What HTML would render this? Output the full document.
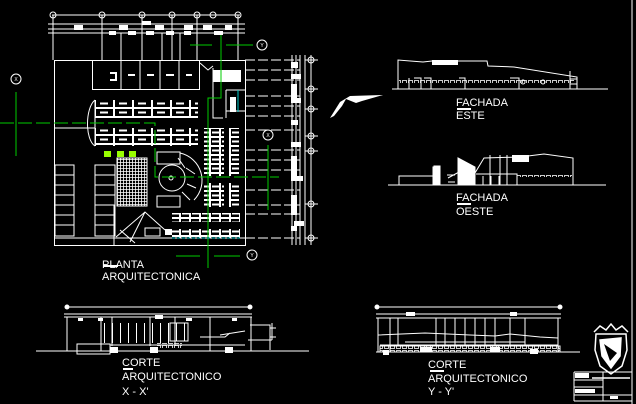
<!DOCTYPE html>
<html><head><meta charset="utf-8"><style>
html,body{margin:0;padding:0;background:#000;}
svg{display:block}
text{font-family:"Liberation Sans",sans-serif;fill:#fff;}
</style></head><body>
<svg width="636" height="404" viewBox="0 0 636 404" xmlns="http://www.w3.org/2000/svg">
<defs>
<pattern id="desk" x="95" y="0" width="19" height="9" patternUnits="userSpaceOnUse">
<rect x="0.5" y="0.5" width="18" height="8" fill="none" stroke="#fff" stroke-width="1"/>
<rect x="5" y="3.5" width="8" height="2" fill="#fff"/>
</pattern>
<pattern id="desk2" x="0" y="128" width="10" height="9" patternUnits="userSpaceOnUse">
<rect x="0.5" y="0.5" width="9" height="8" fill="none" stroke="#fff"/>
<rect x="2" y="3.5" width="7" height="2" fill="#fff"/>
</pattern>
<pattern id="grid" width="3" height="3" patternUnits="userSpaceOnUse">
<path d="M0 0.5H3M0.5 0V3" stroke="#fff" stroke-width="0.8"/>
</pattern>
<pattern id="win" width="6" height="5" patternUnits="userSpaceOnUse">
<rect x="0.5" y="0.5" width="4" height="3" fill="none" stroke="#fff" stroke-width="0.8"/>
</pattern>
<pattern id="sec" width="8" height="20" patternUnits="userSpaceOnUse">
<path d="M0.5 0V20" stroke="#fff"/>
</pattern>
</defs>
<rect width="636" height="404" fill="#000"/>
<g stroke="#fff" stroke-width="1" fill="none">
<path d="M48 24H245M48 29H245M48 33H245M52 15H240"/>
<g fill="#fff" stroke="none">
<rect x="74" y="25" width="9" height="5"/><rect x="119" y="25" width="9" height="5"/><rect x="155" y="25" width="9" height="5"/><rect x="184" y="25" width="9" height="5"/><rect x="203" y="25" width="9" height="5"/><rect x="225" y="25" width="7" height="5"/>
<rect x="109" y="31" width="7" height="4"/><rect x="128" y="31" width="8" height="4"/><rect x="146" y="31" width="8" height="4"/><rect x="166" y="31" width="8" height="4"/><rect x="184" y="31" width="7" height="4"/><rect x="214" y="31" width="9" height="4"/><rect x="142" y="21" width="9" height="4"/>
</g>
<g>
<circle cx="53" cy="15" r="3"/><circle cx="102" cy="15" r="3"/><circle cx="142" cy="15" r="3"/><circle cx="172" cy="15" r="3"/><circle cx="197" cy="15" r="3"/><circle cx="213" cy="15" r="3"/><circle cx="238" cy="15" r="3"/>
</g>
<path d="M53 15V60M102 15V60M142 15V60M172 15V60M197 15V60M238 15V60M121 33V60M162 33V60M180 33V60"/>
<rect x="54.5" y="60.5" width="191" height="185"/>
<path d="M54 238H245M114 238V245"/>
<rect x="92.5" y="60.5" width="107" height="29"/>
<path d="M121 60V89M140 60V89M160 60V89M179 60V89"/>
<path d="M110 73H116V80H110M128 75H135M147 75H154M166 75H174M186 75H192" stroke-width="2"/>
<path d="M213 68V118H223M226 90H245M226 90V118M226 111H245"/>
<path d="M200 63L208 70L213 66"/>
<rect x="213" y="70" width="28" height="12" fill="#fff" stroke="none"/>
<rect x="230" y="97" width="6" height="15" fill="#fff" stroke="none"/>
<path d="M95 100V146M95 100C85 108 85 140 95 146"/>
<rect x="95" y="100" width="103" height="18" fill="url(#desk)" stroke="none"/>
<rect x="95" y="128" width="103" height="18" fill="url(#desk)" stroke="none"/>
<path d="M55 128H95"/>
<rect x="204" y="128" width="20" height="48" fill="url(#desk2)" stroke="none"/>
<rect x="229" y="128" width="10" height="48" fill="url(#desk2)" stroke="none"/>
<rect x="204" y="183" width="20" height="24" fill="url(#desk2)" stroke="none"/>
<rect x="229" y="183" width="10" height="24" fill="url(#desk2)" stroke="none"/>
<rect x="172" y="213" width="68" height="9" fill="url(#desk2)" stroke="none"/>
<rect x="172" y="229" width="68" height="9" fill="url(#desk2)" stroke="none"/>
<rect x="117" y="158" width="30" height="48" fill="url(#grid)" stroke="none"/>
<path d="M117 158H147V206H117Z"/>
<circle cx="172" cy="178" r="13"/><circle cx="171" cy="178" r="2"/>
<path d="M180 153A28 28 0 0 1 194 200M157 152H180V164H157ZM157 196H180V207H157Z"/>
<path d="M178 158L185 168M186 168L195 174M187 184L196 188M182 192L190 200"/>
<rect x="55" y="165" width="19" height="71"/>
<path d="M55 175H74M55 185H74M55 195H74M55 205H74M55 215H74M55 225H74"/>
<rect x="95" y="165" width="20" height="71"/>
<path d="M95 175H115M95 185H115M95 195H115M95 205H115M95 215H115M95 225H115M114 205V245"/>
<path d="M116 237L145 212L165 230M130 242L145 212M120 230L135 243"/>
<path d="M145 228H160V236H145Z"/>
<rect x="165" y="229" width="7" height="6" fill="#fff" stroke="none"/>
<path d="M245 60H300M245 70H300M245 80H300M245 96H300M245 106H300M245 116H300M245 130H300M245 150H300M245 160H300M245 170H300M245 190H300M245 205H300M245 214H300M245 238H300" stroke-dasharray="10 3"/>
<path d="M292 55V245M296 55V245M300 55V245M305 55V245M311 55V245"/>
<g fill="#fff" stroke="none">
<rect x="291" y="62" width="7" height="6"/><rect x="291" y="74" width="10" height="5"/><rect x="291" y="84" width="6" height="18"/><rect x="291" y="98" width="10" height="5"/><rect x="291" y="120" width="7" height="5"/><rect x="291" y="142" width="10" height="5"/><rect x="291" y="156" width="6" height="20"/><rect x="291" y="176" width="12" height="5"/><rect x="291" y="195" width="6" height="20"/><rect x="294" y="221" width="10" height="5"/><rect x="291" y="226" width="6" height="5"/>
</g>
<circle cx="311" cy="60" r="3"/><circle cx="311" cy="89" r="3"/><circle cx="311" cy="109" r="3"/><circle cx="311" cy="136" r="3"/><circle cx="311" cy="151" r="3"/><circle cx="311" cy="204" r="3"/><circle cx="311" cy="238" r="3"/>
<path d="M305 60H318M305 89H318M305 109H318M305 136H318M305 151H318M305 204H318M305 238H318"/>
</g>
<g fill="#9f0" stroke="none"><rect x="104" y="151" width="7" height="6"/><rect x="117" y="151" width="7" height="6"/><rect x="129" y="151" width="7" height="6"/></g>
<g stroke="#0c0" stroke-width="1" fill="none">
<path d="M0 123H155V177H279" stroke-dasharray="14 4"/>
<path d="M16 92V156"/>
<path d="M190 45H212M226 45H253M221 35V98H208V268"/>
<path d="M176 256H200M214 256H240"/>
<path d="M268 145V210"/>
</g>
<path d="M172 238H240" stroke="#0cc" stroke-dasharray="3 2"/>
<path d="M238 90V112" stroke="#0cc"/>
<g stroke="#fff" fill="none">
<circle cx="16" cy="79" r="5"/><circle cx="262" cy="45" r="5"/><circle cx="252" cy="255" r="5"/><circle cx="268" cy="135" r="5"/>
</g>
<g font-size="5" text-anchor="middle"><text x="16" y="81">X</text><text x="262" y="47">Y</text><text x="252" y="257">Y</text><text x="268" y="137">X</text></g>
<text x="102" y="268" font-size="11">PLANTA</text>
<rect x="103" y="265" width="15" height="2" fill="#fff"/>
<text x="102" y="280" font-size="11">ARQUITECTONICA</text>
<path d="M330 118L340 102L350 96L383 95L362 101L356 103L346 99L342 106L334 116Z" fill="#fff"/>
<g stroke="#fff" fill="none">
<path d="M392 89H608"/>
<path d="M398 89V60L423 62L432 61H487L488 66L514 67L577 77V89M570 71V89M570 79H577M570 84H577"/>
<rect x="432" y="60" width="26" height="5" fill="#fff" stroke="none"/>
<rect x="399" y="79" width="175" height="4" fill="url(#win)" stroke="none"/>
<path d="M409 78V89M414 78H421V89M424 78H431V89M459 78H465V89M510 78H519V89"/>
<circle cx="523" cy="82" r="2"/><circle cx="543" cy="82" r="2"/>
</g>
<text x="456" y="106" font-size="11">FACHADA</text>
<rect x="457" y="108" width="14" height="2" fill="#fff"/>
<text x="456" y="119" font-size="11">ESTE</text>
<g stroke="#fff" fill="none">
<path d="M388 185H606"/>
<path d="M399 185V176H433M433 185V167H440V185"/>
<rect x="434" y="166" width="6" height="19" fill="#fff"/>
<path d="M448 178L459 172L475 173L484 158L520 157L544 154L573 158V185"/>
<path d="M458 158L475 167V185H458Z" fill="#fff"/>
<path d="M490 155V185M500 155V185M507 155V185"/>
<path d="M476 174H517V185M483 176V185M491 176V185M499 176V185"/>
<rect x="517" y="174" width="55" height="3" fill="url(#win)" stroke="none"/>
<rect x="512" y="155" width="17" height="7" fill="#fff" stroke="none"/>
<path d="M447 175H455M448 182H455"/>
</g>
<text x="456" y="201" font-size="11">FACHADA</text>
<rect x="457" y="203" width="14" height="2" fill="#fff"/>
<text x="456" y="215" font-size="11">OESTE</text>
<g stroke="#fff" fill="none">
<path d="M36 351H309"/>
<path d="M67 307H252M64 314H252M64 317H252"/>
<circle cx="67" cy="307" r="2" fill="#fff"/><circle cx="250" cy="307" r="2" fill="#fff"/>
<path d="M67 317V351M101 317V351M112 317V346M150 317V346M175 317V346M210 317V351M251 317V351"/>
<rect x="101" y="323" width="74" height="20" fill="url(#sec)" stroke="none"/>
<rect x="170" y="323" width="18" height="18" fill="url(#sec)"/>
<path d="M77 344H110V354H77ZM110 345H245M200 337H225L230 333M220 335L245 331M250 325H270V350M248 340H272"/>
<rect x="157" y="343" width="25" height="5" fill="url(#win)" stroke="none"/>
<path d="M272 323V340M270 328H276M270 337H276"/>
<g fill="#fff" stroke="none"><rect x="78" y="318" width="5" height="3"/><rect x="98" y="318" width="5" height="3"/><rect x="155" y="315" width="8" height="4"/><rect x="186" y="318" width="6" height="3"/><rect x="232" y="318" width="5" height="3"/><rect x="110" y="347" width="8" height="6"/><rect x="150" y="347" width="8" height="6"/><rect x="225" y="347" width="8" height="6"/></g>
</g>
<text x="122" y="366" font-size="11">CORTE</text>
<rect x="123" y="368" width="10" height="2" fill="#fff"/>
<text x="122" y="380" font-size="11">ARQUITECTONICO</text>
<text x="122" y="395" font-size="11">X - X'</text>
<g stroke="#fff" fill="none">
<path d="M376 352H580"/>
<path d="M377 307H561M376 314H561M376 318H561"/>
<circle cx="377" cy="307" r="2" fill="#fff"/><circle cx="560" cy="307" r="2" fill="#fff"/>
<path d="M378 318V352M390 318V352M398 318V345M436 318V345M445 318V345M455 318V345M465 318V345M475 318V345M485 318V345M495 318V345M510 318V345M525 318V345M558 318V352"/>
<path d="M378 335L425 333L470 335L495 336L510 334L540 337L558 338M380 345H558M405 342H525"/>
<rect x="380" y="346" width="180" height="6" fill="url(#win)"/>
<g fill="#fff" stroke="none"><rect x="406" y="312" width="9" height="4"/><rect x="510" y="312" width="7" height="4"/><rect x="383" y="350" width="6" height="5"/><rect x="420" y="347" width="12" height="5"/><rect x="490" y="347" width="10" height="5"/><rect x="530" y="349" width="8" height="5"/></g>
</g>
<text x="428" y="368" font-size="11">CORTE</text>
<rect x="430" y="370" width="14" height="2" fill="#fff"/>
<text x="428" y="382" font-size="11">ARQUITECTONICO</text>
<text x="428" y="395" font-size="11">Y - Y'</text>
<g stroke="#fff" fill="none" stroke-width="1.5">
<path d="M592 378H630M594 332L600 326L606 330L611 324L616 330L622 326L628 332"/>
<path d="M596 334H626L627 350L622 366L611 374L600 366L595 350Z"/>
<path d="M600 340L621 338L620 356L611 368L602 356Z" fill="#fff"/>
</g>
<path d="M604 344L617 353L610 361Z" fill="#000"/>
<g stroke="#fff" fill="none">
<path d="M574 372H632M574 380H603M574 387H603M574 395H632M574 372V401M603 372V401M574 401H632M632 0V404"/>
</g>
<rect x="575" y="373" width="14" height="5" fill="#fff"/><rect x="575" y="389" width="20" height="4" fill="#fff"/><rect x="610" y="396" width="8" height="3" fill="#fff"/>
</svg>
</body></html>
